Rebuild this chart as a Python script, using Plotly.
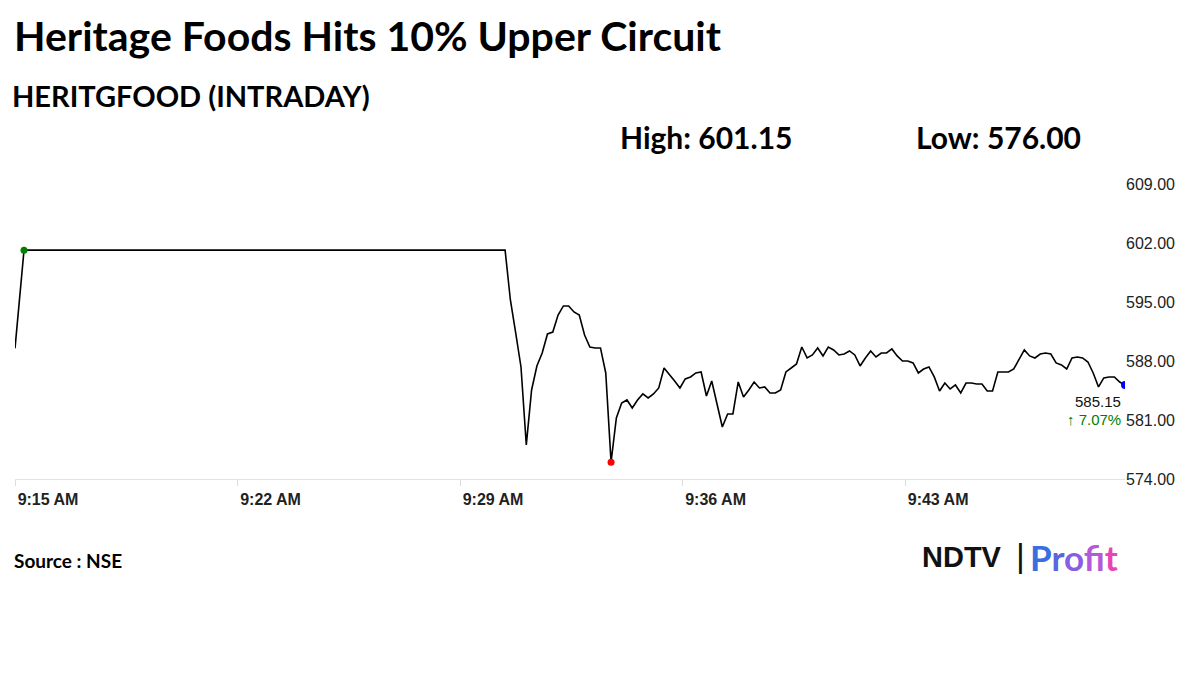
import plotly.graph_objects as go
import pandas as pd

title = "Heritage Foods Hits 10% Upper Circuit"
subtitle = "HERITGFOOD (INTRADAY)"
high_txt = "High: 601.15"
low_txt = "Low: 576.00"
last_price = 585.15
change_txt = "↑ 7.07%"

open_times = ["2024-01-01 09:15:00", "2024-01-01 09:15:17"]
open_prices = [589.5, 601.15]
tail_start = "2024-01-01 09:30:25"
tail_prices = [601.15, 595.24, 591.33, 587.29, 578.04, 584.56, 587.41, 588.95, 591.21, 591.44,
               593.46, 594.53, 594.53, 593.82, 593.46, 591.09, 589.66, 589.55, 589.55, 586.58,
               576.00, 581.24, 583.02, 583.38, 582.43, 583.38, 584.09, 583.61, 584.09, 584.80,
               587.17, 586.46, 585.63, 584.80, 585.87, 586.11, 586.58, 586.70, 583.85, 585.63,
               583.02, 580.17, 581.72, 581.72, 585.51, 583.73, 584.56, 585.51, 584.80, 584.92,
               584.21, 584.21, 584.56, 586.70, 587.17, 587.65, 589.66, 588.36,
               588.72, 589.55, 588.60, 589.66, 589.31, 588.72, 588.83, 589.19, 588.72, 587.41,
               588.36, 589.19, 588.48, 588.95, 588.95, 589.43, 588.60, 588.00, 588.00, 587.77,
               586.58, 587.05, 587.29, 586.11, 584.44, 585.39, 584.68, 585.16, 584.21, 585.39,
               585.39, 585.28, 585.28, 584.44, 584.44, 586.70, 586.70, 586.70, 587.05, 588.12,
               589.31, 588.60, 588.36, 588.83, 588.95, 588.83, 587.77, 587.53, 587.05, 588.36,
               588.48, 588.36, 587.88, 586.58, 584.92, 585.99, 586.11, 586.11, 585.51, 585.15]
y_ticks = [574, 581, 588, 595, 602, 609]
x_ticks = ["2024-01-01 09:15", "2024-01-01 09:22", "2024-01-01 09:29", "2024-01-01 09:36", "2024-01-01 09:43"]

times = list(pd.to_datetime(open_times)) + list(pd.date_range(tail_start, periods=len(tail_prices), freq="10s"))
prices = open_prices + tail_prices
hi_i = 1
lo_i = prices.index(min(prices))

OFF = 8  # page offset of the figure
L, R, T, B = 15 - OFF, 1125 - OFF, 184 - OFF, 479 - OFF

fig = go.Figure()
fig.add_trace(go.Scatter(x=times, y=prices, mode="lines", line=dict(color="black", width=1.6), hoverinfo="skip"))
fig.add_trace(go.Scatter(x=[times[hi_i]], y=[prices[hi_i]], mode="markers", marker=dict(color="green", size=7)))
fig.add_trace(go.Scatter(x=[times[lo_i]], y=[prices[lo_i]], mode="markers", marker=dict(color="red", size=7)))
fig.add_trace(go.Scatter(x=[times[-1]], y=[prices[-1]], mode="markers", marker=dict(color="blue", size=8), cliponaxis=True))

fig.update_layout(
    width=1200, height=675, showlegend=False, paper_bgcolor="white", plot_bgcolor="white",
    margin=dict(l=L, r=1200 - R, t=T, b=675 - B),
    xaxis=dict(range=[times[0], times[-1]], tickvals=x_ticks, tickformat="%-I:%M %p", showgrid=False,
               zeroline=False, showline=True, linecolor="#e3e3e3", ticks="outside", tickcolor="#dddddd",
               ticklen=6, ticklabelshift=33,
               tickfont=dict(family="Liberation Sans", size=16, color="#222", weight="bold")),
    yaxis=dict(range=[574, 609], tickvals=y_ticks, tickformat=".2f", side="right", showgrid=False,
               zeroline=False, tickfont=dict(family="Liberation Sans", size=16, color="#222")),
)
ann = [
    dict(text=title, x=12, y=35, font=dict(family="Lato", size=41, color="black", weight="bold")),
    dict(text=subtitle, x=10, y=95, font=dict(family="Lato", size=29, color="black", weight="bold")),
    dict(text=high_txt, x=618, y=137, font=dict(family="Lato", size=30, color="black", weight="bold")),
    dict(text=low_txt, x=914, y=137, font=dict(family="Lato", size=30, color="black", weight="bold")),
    dict(text="Source : NSE", x=12, y=560, font=dict(family="Lato", size=19, color="black", weight="bold")),
    dict(text="NDTV", x=920, y=557, font=dict(family="Liberation Sans", size=29, color="#111", weight="bold")),
    dict(text="|", x=1014, y=555, font=dict(family="Liberation Sans", size=34, color="#111")),
    dict(text="<span style='color:#3a6fe0'>P</span><span style='color:#5a66e0'>r</span><span style='color:#8a5ee0'>o</span><span style='color:#b45ad8'>f</span><span style='color:#d450c8'>i</span><span style='color:#e845b0'>t</span>",
         x=1028, y=557, font=dict(family="Lato", size=35, weight="bold")),
]
for a in ann:
    fig.add_annotation(text=a["text"], showarrow=False, xref="x domain", yref="y domain",
                       x=(a["x"] - 15) / 1110, y=(479 - a["y"]) / 295, xanchor="left", yanchor="middle",
                       font=a["font"])
fig.add_annotation(x=times[-1], y=last_price, text=f"{last_price:.2f}", showarrow=False, xanchor="right",
                   yshift=-16, xshift=-2, font=dict(family="Liberation Sans", size=15, color="#111"))
fig.add_annotation(x=times[-1], y=last_price, text=change_txt, showarrow=False, xanchor="right",
                   yshift=-34, xshift=-2, font=dict(family="Liberation Sans", size=15, color="green"))
fig.write_html("out.html")
